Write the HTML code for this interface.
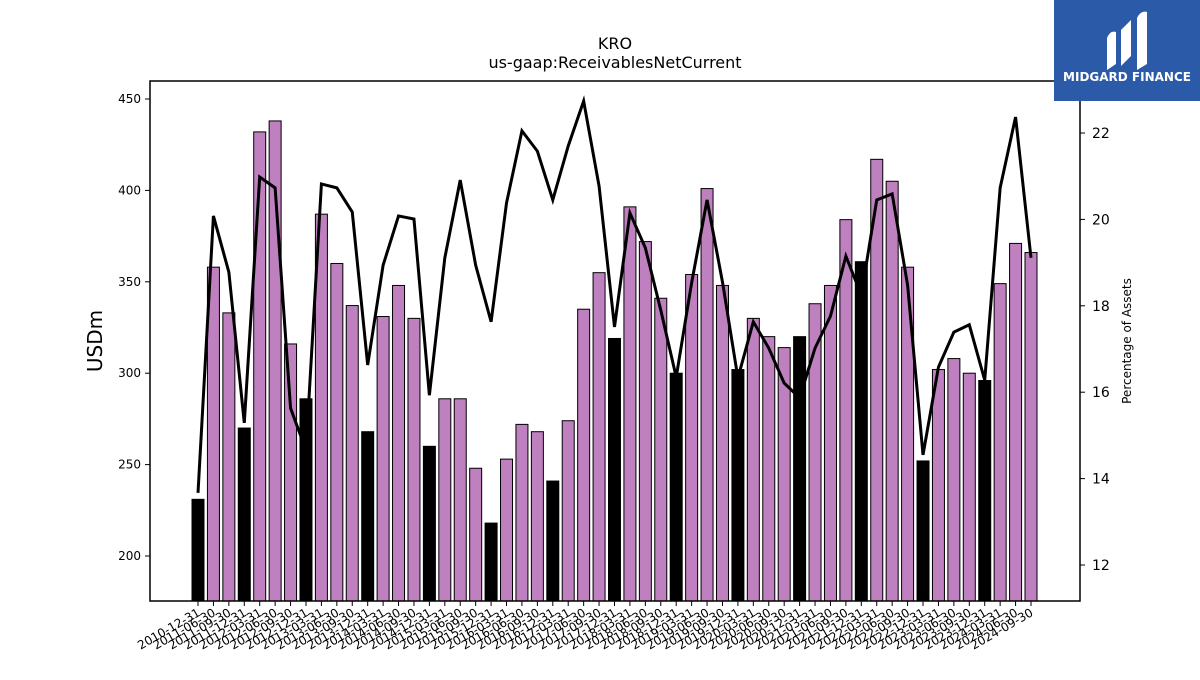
<!DOCTYPE html>
<html><head><meta charset="utf-8"><style>
body{margin:0;background:#fff;font-family:"Liberation Sans","DejaVu Sans",sans-serif}
svg text{font-family:"DejaVu Sans","Liberation Sans",sans-serif}
</style></head><body>
<svg id="chart" width="1200" height="675" viewBox="0 0 1200 675">
<rect width="1200" height="675" fill="#fff"/>
<text x="615" y="49" font-size="16" text-anchor="middle">KRO</text>
<text x="615" y="68" font-size="16" text-anchor="middle">us-gaap:ReceivablesNetCurrent</text>
<text transform="translate(102,341) rotate(-90)" font-size="20" text-anchor="middle">USDm</text>
<text transform="translate(1131,341) rotate(-90)" font-size="12" text-anchor="middle">Percentage of Assets</text>
<g id="bars"></g>
<g id="line"></g>
<g id="axes"></g>
<rect x="150" y="81" width="930" height="520" fill="none" stroke="#000" stroke-width="1.5"/>
<g>
<rect x="1054" y="0" width="146" height="101" fill="#2b5aa8"/>
<path d="M1107 70 L1107 38 Q1110 30 1116 32 L1116 64 Z M1121 66 L1121 30 L1131 20 L1131 56 Z M1137 70 L1137 18 Q1141 10 1147 12 L1147 64 Z" fill="#fff"/>
<text x="1127" y="81" font-size="12" font-weight="bold" fill="#fff" text-anchor="middle">MIDGARD FINANCE</text>
</g>
</svg>
<script>
const categories=["2010-12-31","2011-06-30","2011-09-30","2011-12-31","2012-03-31","2012-06-30","2012-09-30","2012-12-31","2013-03-31","2013-06-30","2013-09-30","2013-12-31","2014-03-31","2014-06-30","2014-09-30","2014-12-31","2015-03-31","2015-06-30","2015-09-30","2015-12-31","2016-03-31","2016-06-30","2016-09-30","2016-12-31","2017-03-31","2017-06-30","2017-09-30","2017-12-31","2018-03-31","2018-06-30","2018-09-30","2018-12-31","2019-03-31","2019-06-30","2019-09-30","2019-12-31","2020-03-31","2020-06-30","2020-09-30","2020-12-31","2021-03-31","2021-06-30","2021-09-30","2021-12-31","2022-03-31","2022-06-30","2022-09-30","2022-12-31","2023-03-31","2023-06-30","2023-09-30","2023-12-31","2024-03-31","2024-06-30","2024-09-30"];
const receivables=[231,358,333,270,432,438,316,286,387,360,337,268,331,348,330,260,286,286,248,218,253,272,268,241,274,335,355,319,391,372,341,300,354,401,348,302,330,320,314,320,338,348,384,361,417,405,358,252,302,308,300,296,349,371,366];
const pctAssets=[13.67,20.08,18.78,15.29,20.98,20.73,15.63,14.66,20.82,20.73,20.17,16.63,18.94,20.08,20.01,15.93,19.11,20.91,18.94,17.63,20.38,22.05,21.58,20.45,21.70,22.74,20.77,17.51,20.15,19.34,17.90,16.35,18.53,20.45,18.55,16.33,17.63,17.02,16.21,15.87,17.02,17.76,19.15,18.25,20.45,20.59,18.48,14.55,16.58,17.39,17.56,16.28,20.73,22.37,19.11];
const leftTicks=[200,250,300,350,400,450];
const rightTicks=[12,14,16,18,20,22];
const NS="http://www.w3.org/2000/svg";
function mk(t,a,p){const e=document.createElementNS(NS,t);for(const k in a)e.setAttribute(k,a[k]);p.appendChild(e);return e;}
const x0=198,dx=(1031-198)/54;
const xs=i=>x0+i*dx;
const yL=v=>556-(v-200)*(457/250);
const yR=v=>133+(22-v)*43.2;
const bars=document.getElementById('bars'),line=document.getElementById('line'),axes=document.getElementById('axes');
receivables.forEach((v,i)=>{
 const q4=categories[i].slice(5,7)==="12";
 const r=mk('rect',{x:xs(i)-6,y:yL(v),width:12,height:601-yL(v),fill:q4?'#000':'#bf80bf',stroke:'#000','stroke-width':1},bars);
 
 
 const t=mk('line',{x1:xs(i),x2:xs(i),y1:601,y2:606,stroke:'#000','stroke-width':1},axes);
 
 
 const lb=mk('text',{'font-size':12,'text-anchor':'end',transform:`translate(${xs(i)+3},615) rotate(-30)`},axes);
 lb.textContent=categories[i];
 
 
});
const p=mk('polyline',{points:pctAssets.map((v,i)=>xs(i)+','+yR(v)).join(' '),fill:'none',stroke:'#000','stroke-width':3,'stroke-linejoin':'miter'},line);


leftTicks.forEach(v=>{
 const t=mk('line',{x1:145,x2:150,y1:yL(v),y2:yL(v),stroke:'#000'},axes);
 
 
 const l=mk('text',{x:141,y:yL(v)+4,'font-size':12,'text-anchor':'end'},axes);l.textContent=v;
 
 
});
rightTicks.forEach(v=>{
 const t=mk('line',{x1:1080,x2:1085,y1:yR(v),y2:yR(v),stroke:'#000'},axes);
 
 
 const l=mk('text',{x:1092,y:yR(v)+5,'font-size':14},axes);l.textContent=v;
 
 
});
</script>
</body></html>
